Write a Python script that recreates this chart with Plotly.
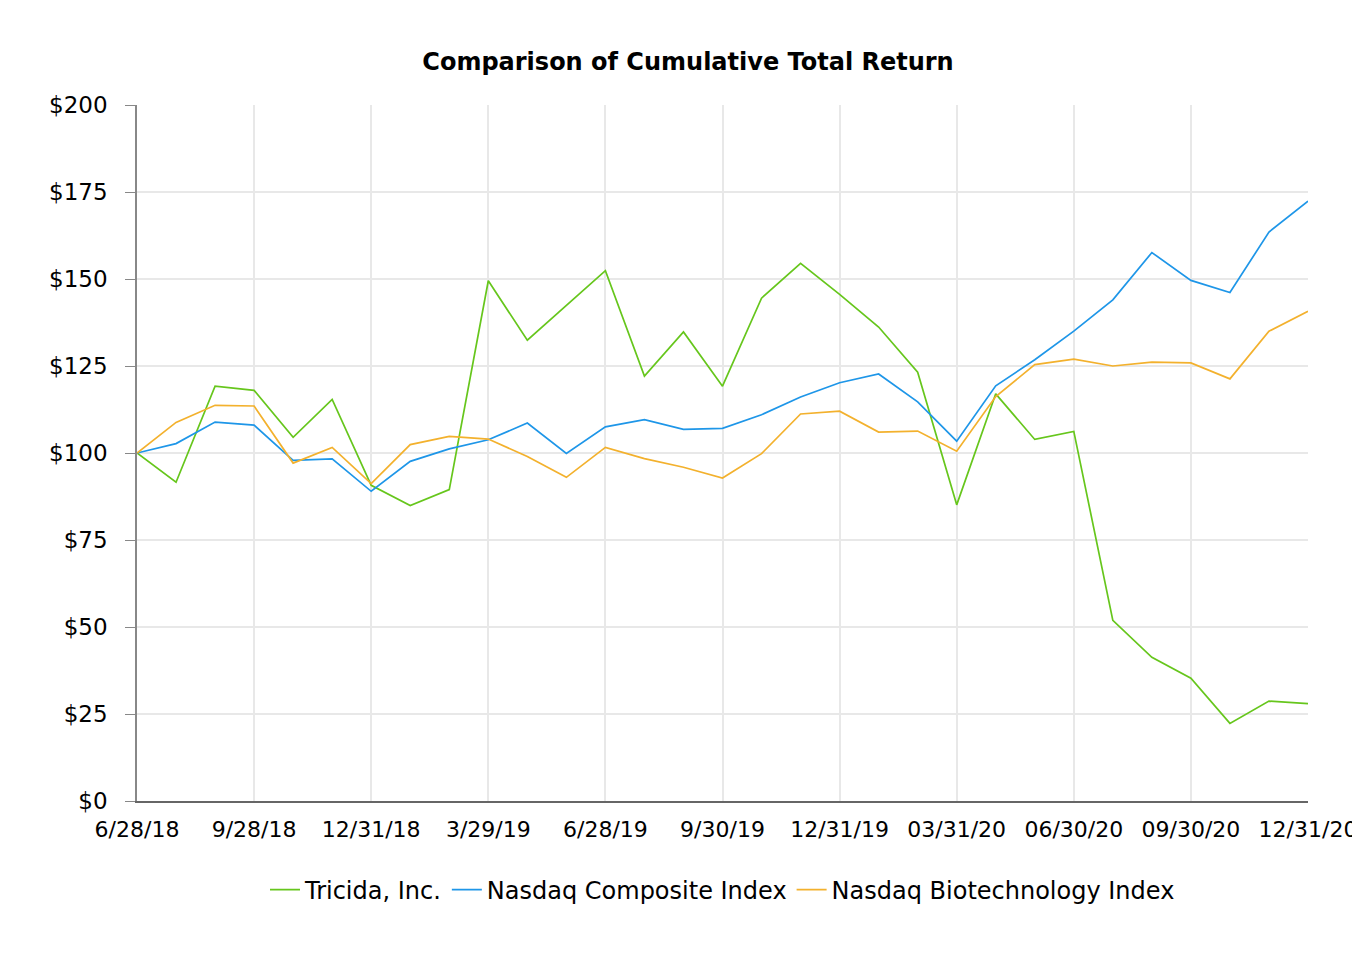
import plotly.graph_objects as go

tick_labels = ["6/28/18", "9/28/18", "12/31/18", "3/29/19", "6/28/19", "9/30/19",
               "12/31/19", "03/31/20", "06/30/20", "09/30/20", "12/31/20"]
y_ticks = [0, 25, 50, 75, 100, 125, 150, 175, 200]
periods = list(range(31))

tricida = [100, 91.6, 119.2, 118.0, 104.5, 115.4, 90.7, 84.9, 89.5, 149.5,
           132.4, 142.3, 152.4, 122.1, 134.8, 119.2, 144.5, 154.5, 145.6, 136.2,
           123.2, 85.1, 117.0, 103.9, 106.2, 51.9, 41.3, 35.3, 22.3, 28.7, 28.0]
nasdaq_comp = [100, 102.7, 108.9, 108.0, 97.9, 98.3, 89.0, 97.6, 101.2, 103.8,
               108.6, 99.9, 107.5, 109.6, 106.8, 107.1, 111.0, 116.1, 120.2, 122.7,
               114.7, 103.4, 119.3, 126.8, 135.0, 144.0, 157.6, 149.6, 146.1, 163.5, 172.4]
nasdaq_bio = [100, 108.8, 113.7, 113.5, 97.1, 101.6, 91.2, 102.4, 104.8, 104.0,
              99.0, 93.0, 101.6, 98.4, 95.9, 92.8, 99.8, 111.2, 112.0, 106.0,
              106.3, 100.5, 116.2, 125.4, 127.0, 125.0, 126.1, 125.9, 121.3, 135.0, 140.7]

series = [("Tricida, Inc.", tricida, "#66c61c"),
          ("Nasdaq Composite Index", nasdaq_comp, "#1e96e8"),
          ("Nasdaq Biotechnology Index", nasdaq_bio, "#f3b12d")]

fig = go.Figure()
for name, vals, col in series:
    fig.add_trace(go.Scatter(x=periods, y=vals, mode="lines", name=name,
                             line=dict(color=col, width=1.7)))

font_family = "DejaVu Sans"
fig.update_layout(
    width=1360, height=960,
    paper_bgcolor="white", plot_bgcolor="white",
    margin=dict(l=129, r=60, t=97, b=167),
    font=dict(family=font_family, color="black", size=22),
    title=dict(text="<b>Comparison of Cumulative Total Return</b>",
               x=0.5, xanchor="center", y=1 - 54 / 960, yanchor="middle",
               font=dict(size=24, family=font_family)),
    showlegend=True,
    legend=dict(orientation="h", x=0.5, xanchor="center", y=-0.128, yanchor="middle",
                font=dict(size=24, family=font_family), traceorder="normal"),
)
fig.update_xaxes(range=[0, 30], tickmode="array", tickvals=list(range(0, 31, 3)),
                 ticktext=tick_labels, showgrid=True, gridcolor="#e8e8e8", gridwidth=1.5,
                 showline=True, linecolor="#666666", linewidth=1.5, ticks="",
                 ticklabelstandoff=8,
                 tickfont=dict(size=22), zeroline=False)
fig.update_yaxes(range=[0, 200], tickmode="array", tickvals=y_ticks,
                 ticktext=["$" + str(v) for v in y_ticks],
                 showgrid=True, gridcolor="#e8e8e8", gridwidth=1.5,
                 showline=True, linecolor="#888888", linewidth=1.5,
                 ticks="outside", ticklen=10, tickcolor="#888888",
                 ticklabelstandoff=13,
                 tickfont=dict(size=23), zeroline=False)

fig.write_html("out.html")
